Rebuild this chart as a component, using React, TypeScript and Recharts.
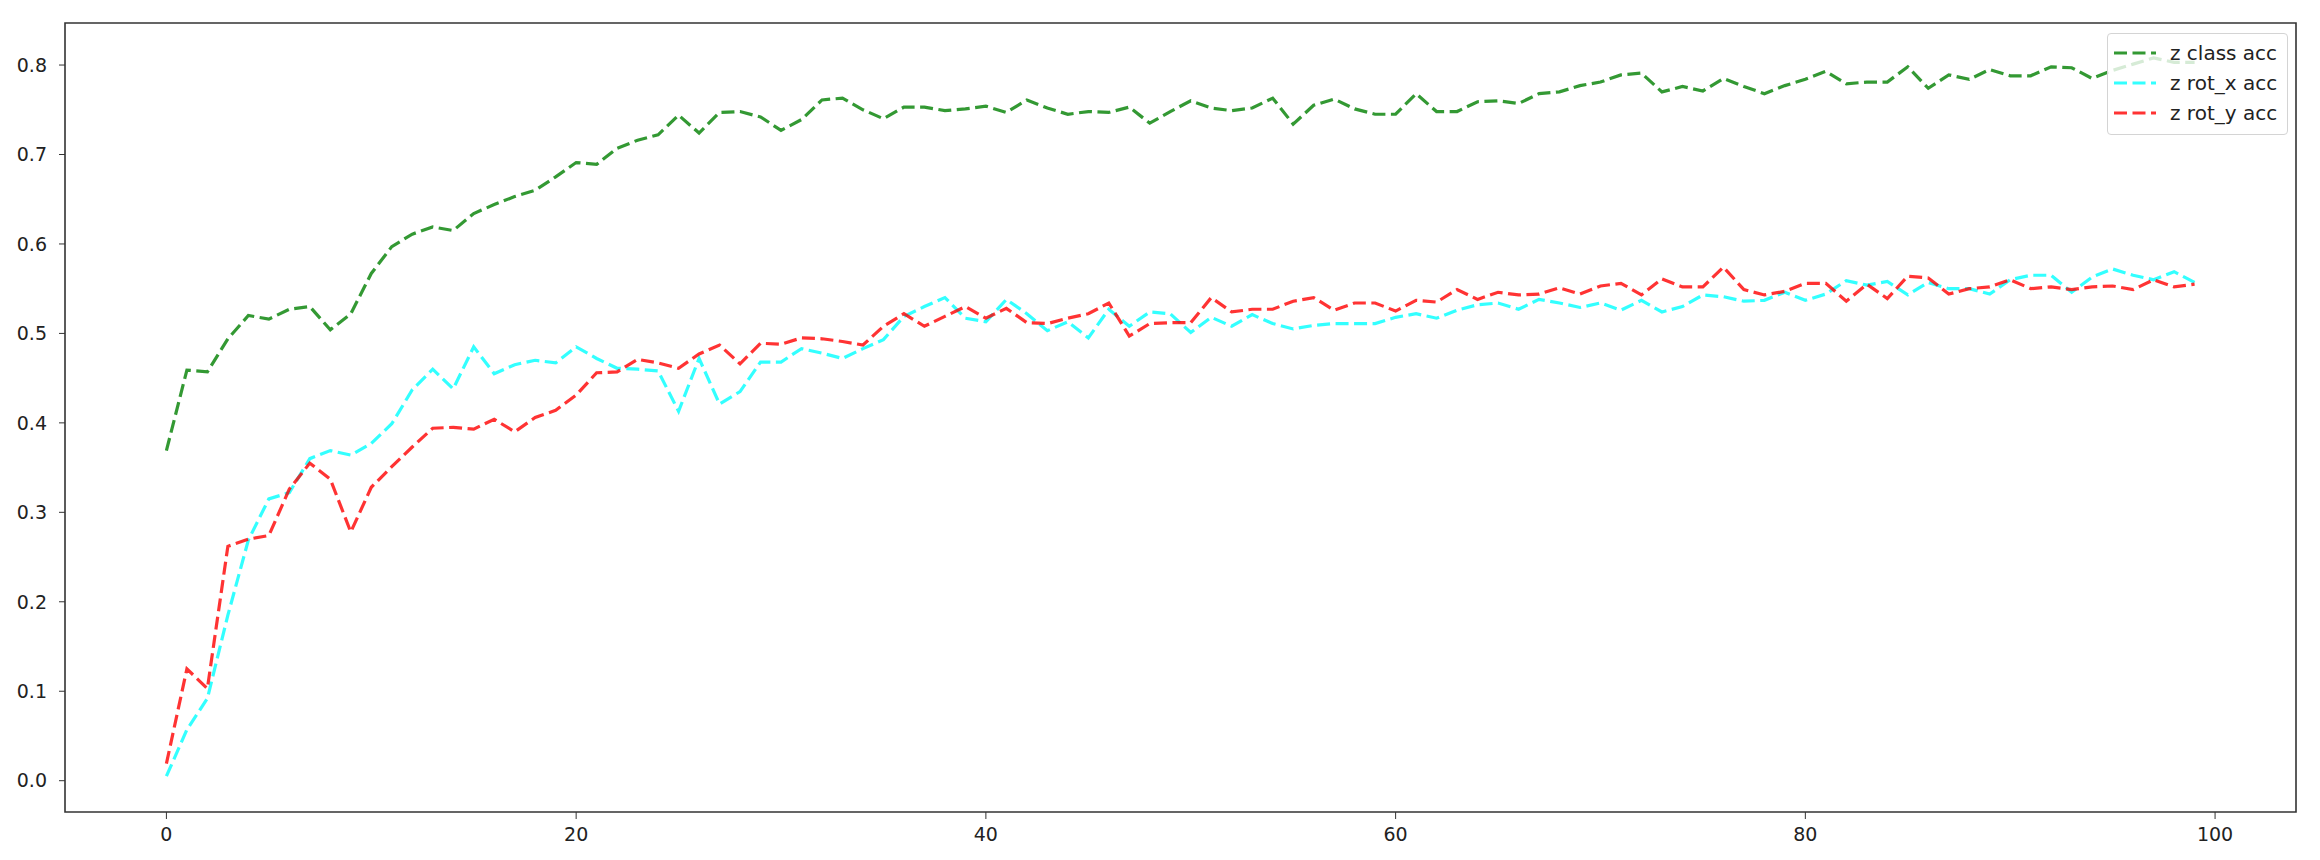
import React from 'react';
import { LineChart, Line, XAxis, YAxis, ReferenceArea } from 'recharts';

const classAcc = [
  0.369, 0.459, 0.457, 0.494, 0.520, 0.516, 0.527, 0.530, 0.504, 0.522,
  0.567, 0.597, 0.611, 0.619, 0.615, 0.634, 0.644, 0.653, 0.660, 0.675,
  0.691, 0.689, 0.707, 0.716, 0.722, 0.744, 0.724, 0.747, 0.748, 0.742,
  0.727, 0.739, 0.761, 0.763, 0.750, 0.740, 0.753, 0.753, 0.749, 0.751,
  0.754, 0.747, 0.761, 0.752, 0.745, 0.748, 0.747, 0.753, 0.735, 0.748,
  0.760, 0.752, 0.749, 0.752, 0.763, 0.734, 0.755, 0.762, 0.751, 0.745,
  0.745, 0.768, 0.748, 0.748, 0.759, 0.760, 0.757, 0.768, 0.770, 0.777,
  0.781, 0.789, 0.791, 0.770, 0.776, 0.771, 0.785, 0.776, 0.768, 0.777,
  0.784, 0.793, 0.779, 0.781, 0.781, 0.798, 0.774, 0.789, 0.784, 0.795,
  0.788, 0.788, 0.798, 0.797, 0.785, 0.794, 0.801, 0.808, 0.803, 0.803,
];

const rotXAcc = [
  0.005, 0.057, 0.092, 0.185, 0.269, 0.315, 0.322, 0.360, 0.369, 0.364,
  0.377, 0.399, 0.437, 0.460, 0.438, 0.485, 0.455, 0.465, 0.470, 0.467,
  0.485, 0.472, 0.461, 0.460, 0.458, 0.413, 0.472, 0.421, 0.435, 0.468,
  0.468, 0.483, 0.478, 0.472, 0.483, 0.493, 0.519, 0.530, 0.540, 0.517,
  0.513, 0.538, 0.522, 0.503, 0.513, 0.495, 0.527, 0.508, 0.524, 0.522,
  0.501, 0.518, 0.508, 0.521, 0.511, 0.505, 0.509, 0.511, 0.511, 0.511,
  0.518, 0.522, 0.517, 0.526, 0.532, 0.534, 0.527, 0.538, 0.534, 0.529,
  0.534, 0.526, 0.537, 0.524, 0.530, 0.543, 0.541, 0.536, 0.537, 0.546,
  0.537, 0.544, 0.559, 0.554, 0.558, 0.543, 0.557, 0.550, 0.550, 0.544,
  0.560, 0.565, 0.565, 0.546, 0.563, 0.572, 0.565, 0.560, 0.569, 0.557,
];

const rotYAcc = [
  0.019, 0.125, 0.103, 0.262, 0.270, 0.274, 0.326, 0.355, 0.337, 0.278,
  0.328, 0.351, 0.373, 0.394, 0.395, 0.393, 0.404, 0.390, 0.406, 0.414,
  0.431, 0.456, 0.457, 0.471, 0.467, 0.461, 0.477, 0.487, 0.466, 0.489,
  0.488, 0.495, 0.494, 0.491, 0.487, 0.508, 0.522, 0.508, 0.519, 0.530,
  0.517, 0.528, 0.512, 0.511, 0.517, 0.522, 0.534, 0.497, 0.511, 0.512,
  0.512, 0.540, 0.524, 0.527, 0.527, 0.536, 0.540, 0.526, 0.534, 0.534,
  0.525, 0.537, 0.535, 0.549, 0.538, 0.546, 0.543, 0.544, 0.551, 0.544,
  0.553, 0.556, 0.543, 0.561, 0.552, 0.552, 0.574, 0.549, 0.543, 0.547,
  0.556, 0.556, 0.536, 0.555, 0.539, 0.564, 0.562, 0.544, 0.550, 0.552,
  0.560, 0.550, 0.552, 0.549, 0.552, 0.553, 0.549, 0.560, 0.552, 0.555,
];

const xTicks = [0, 20, 40, 60, 80, 100];
const yTicks = [0.0, 0.1, 0.2, 0.3, 0.4, 0.5, 0.6, 0.7, 0.8];

const series = [
  { key: 'cls', name: 'z class acc', color: '#008000' },
  { key: 'rx', name: 'z rot_x acc', color: '#00ffff' },
  { key: 'ry', name: 'z rot_y acc', color: '#ff0000' },
];

const data = classAcc.map((v, i) => ({ epoch: i, cls: v, rx: rotXAcc[i], ry: rotYAcc[i] }));

const FONT = '"DejaVu Sans", sans-serif';

// legend drawn as a plain overlay so it doesn't eat plot height
const LegendBox = () => (
  <div
    style={{
      position: 'absolute',
      left: 2107,
      top: 33,
      background: 'rgba(255,255,255,0.8)',
      border: '1px solid #d4d4d4',
      borderRadius: 4,
      padding: '4px 10px 6px 6px',
      fontFamily: FONT,
      fontSize: 20,
      color: '#222',
    }}
  >
    {series.map((s) => (
      <div key={s.key} style={{ display: 'flex', alignItems: 'center', height: 30 }}>
        <svg width={42} height={8} style={{ marginRight: 14 }}>
          <line x1={0} y1={4} x2={42} y2={4} stroke={s.color} strokeOpacity={0.8}
            strokeWidth={3.2} strokeDasharray="13 5.5" />
        </svg>
        <span>{s.name}</span>
      </div>
    ))}
  </div>
);

export default function App() {
  return (
    <div style={{ position: 'absolute', left: 0, top: 0, width: 2320, height: 860, background: '#fff' }}>
      <LineChart width={2320} height={860} data={data}
        margin={{ top: 23, right: 24, bottom: 0, left: 0 }}>
        <XAxis dataKey="epoch" type="number" domain={[-4.95, 103.95]} ticks={xTicks}
          axisLine={false} tickSize={7} tickMargin={9} height={48}
          tick={{ fill: '#222', fontSize: 19, fontFamily: FONT }} tickLine={{ stroke: '#333' }} />
        <YAxis type="number" domain={[-0.035, 0.847]} ticks={yTicks} width={65}
          axisLine={false} tickSize={6} tickMargin={12} tickFormatter={(v) => v.toFixed(1)}
          tick={{ fill: '#222', fontSize: 19, fontFamily: FONT }} tickLine={{ stroke: '#333' }} />
        <ReferenceArea x1={-4.95} x2={103.95} y1={-0.035} y2={0.847} fill="none"
          stroke="#333" strokeWidth={1.6} ifOverflow="visible" />
        {series.map((s) => (
          <Line key={s.key} dataKey={s.key} name={s.name} type="linear" stroke={s.color}
            strokeOpacity={0.8} strokeWidth={3.2} strokeDasharray="13 5.5" dot={false}
            activeDot={false} isAnimationActive={false} />
        ))}
      </LineChart>
      <LegendBox />
    </div>
  );
}
